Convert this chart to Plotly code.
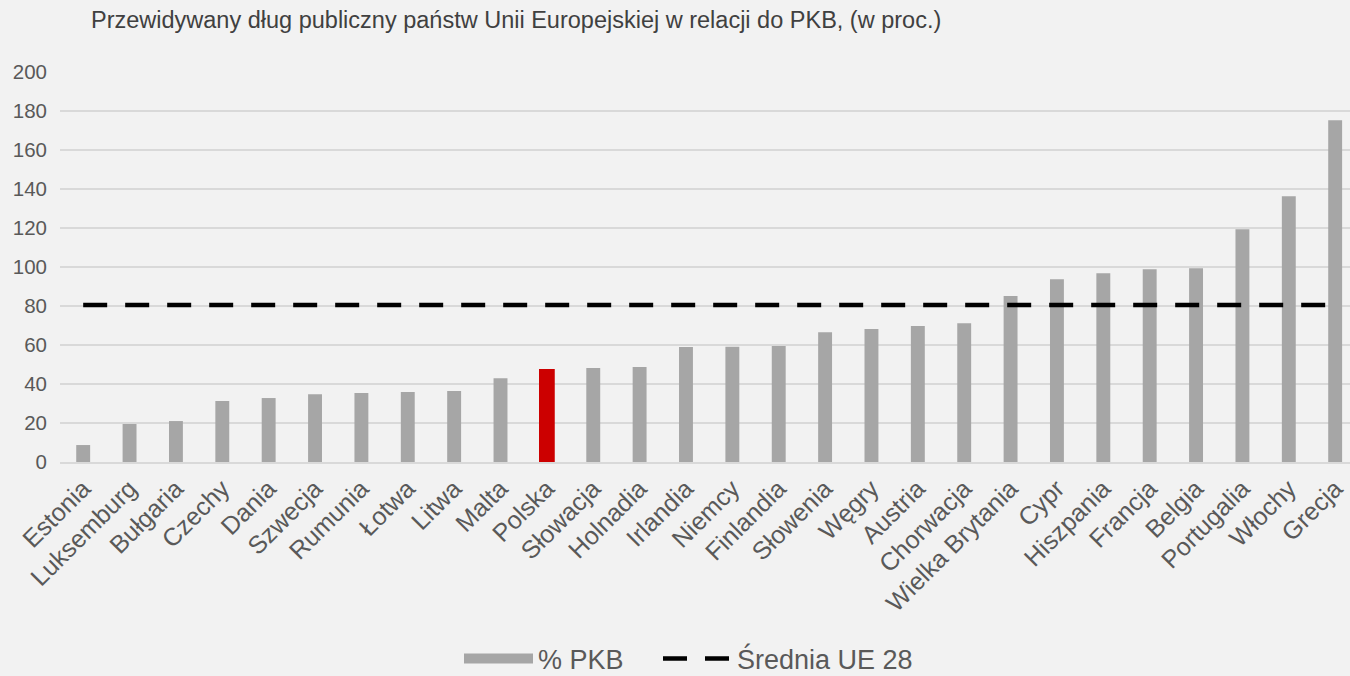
import plotly.graph_objects as go

countries = ["Estonia", "Luksemburg", "Bułgaria", "Czechy", "Dania", "Szwecja", "Rumunia",
             "Łotwa", "Litwa", "Malta", "Polska", "Słowacja", "Holnadia", "Irlandia",
             "Niemcy", "Finlandia", "Słowenia", "Węgry", "Austria", "Chorwacja",
             "Wielka Brytania", "Cypr", "Hiszpania", "Francja", "Belgia", "Portugalia",
             "Włochy", "Grecja"]
debt_pct = [8.7, 19.5, 21.0, 31.3, 32.8, 34.8, 35.4, 35.9, 36.4, 43.0, 47.7, 48.2, 48.7, 59.0,
            59.1, 59.5, 66.6, 68.2, 69.8, 71.2, 85.1, 93.7, 96.8, 98.9, 99.4, 119.4,
            136.3, 175.3]
eu_avg = 80.5
y_ticks = [0, 20, 40, 60, 80, 100, 120, 140, 160, 180, 200]

highlight = "Polska"
bar_colors = ["#cc0000" if c == highlight else "#a6a6a6" for c in countries]
bar_widths = [0.34 if c == highlight else 0.3 for c in countries]

fig = go.Figure()
fig.add_trace(go.Bar(
    x=countries, y=debt_pct, name="% PKB",
    marker=dict(color=bar_colors, line=dict(width=0)),
    width=bar_widths, showlegend=False,
))
# legend entry for the bars (wide grey swatch, as in the original legend)
fig.add_trace(go.Scatter(
    x=[None], y=[None], name="% PKB", mode="lines",
    line=dict(color="#a6a6a6", width=14), showlegend=True, legend="legend",
))
fig.add_trace(go.Scatter(
    x=countries, y=[eu_avg] * len(countries), name="Średnia UE 28",
    mode="lines", line=dict(color="black", width=4.5, dash="24px,18px"),
    legend="legend2",
))

legend_common = dict(
    orientation="h", xanchor="left", xref="container",
    y=1 - 659 / 676, yref="container", yanchor="middle",
    font=dict(size=27, color="#595959"), itemwidth=69,
    bgcolor="rgba(0,0,0,0)", tracegroupgap=0,
)

fig.update_layout(
    width=1350, height=676,
    margin=dict(l=60, r=0, t=72, b=214),
    paper_bgcolor="#f2f2f2", plot_bgcolor="#f2f2f2",
    font=dict(family="Liberation Sans, Arial, sans-serif", color="#595959", size=20),
    title=dict(
        text="Przewidywany dług publiczny państw Unii Europejskiej w relacji do PKB, (w proc.)",
        x=91 / 1350, xref="container", xanchor="left",
        y=1 - 20 / 676, yref="container", yanchor="middle",
        font=dict(size=23.5, color="#404040"),
    ),
    showlegend=True,
    legend=dict(x=459 / 1350, **legend_common),
    legend2=dict(x=658 / 1350, **legend_common),
    bargap=0.7,
)
fig.update_xaxes(
    range=[-0.5, 27.32], tickangle=-45, showgrid=False, showline=True,
    linecolor="#d9d9d9", linewidth=2, ticks="", tickfont=dict(size=25, color="#595959"),
)
fig.update_yaxes(
    range=[0, 200], tickvals=y_ticks, showgrid=True, gridcolor="#d9d9d9", gridwidth=1.5,
    zeroline=False, showline=False, ticks="", tickfont=dict(size=20.5, color="#595959"),
    ticklabelstandoff=12,
)

fig.write_html("out.html")
